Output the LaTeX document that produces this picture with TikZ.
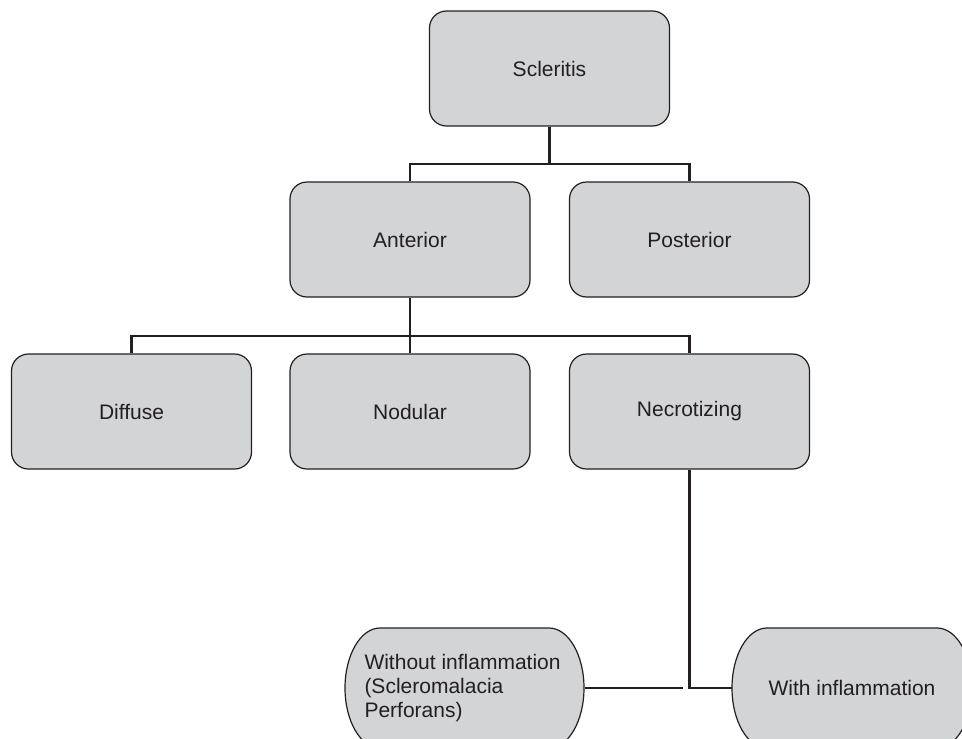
\documentclass[tikz,border=0pt]{standalone}
\usepackage{fontspec}
\setmainfont{Liberation Sans}
\definecolor{boxfill}{HTML}{D3D4D6}
\definecolor{ink}{HTML}{231F20}
\begin{document}
\begin{tikzpicture}[x=1pt,y=-1pt,
  every node/.style={font=\fontsize{21}{24}\selectfont, text=ink},
  catbox/.style={draw=ink, line width=1.2pt, fill=boxfill, rounded corners=17pt,
    minimum width=240pt, minimum height=115pt, inner sep=0pt},
  ovalfill/.style={draw=ink, line width=1.2pt, fill=boxfill},
  conn/.style={draw=ink, line width=2.4pt}]
\useasboundingbox (0,0) rectangle (962,739);

% category boxes
\node[catbox] (scl) at (549.5,68.5) {Scleritis};
\node[catbox] (ant) at (410,239.5) {Anterior};
\node[catbox] (post) at (689.5,239.5) {Posterior};
\node[catbox] (dif) at (131.5,411.5) {Diffuse};
\node[catbox] (nod) at (410,411.5) {Nodular};
\node[catbox] (nec) at (689.5,411.5) {Necrotizing};

% oval shapes (elliptic ends)
\path[ovalfill] (380,628) -- (549,628)
  arc[start angle=-90, end angle=90, x radius=35, y radius=60]
  -- (380,748)
  arc[start angle=90, end angle=270, x radius=35, y radius=60] -- cycle;
\path[ovalfill] (767,628) -- (937,628)
  arc[start angle=-90, end angle=90, x radius=35, y radius=60]
  -- (767,748)
  arc[start angle=90, end angle=270, x radius=35, y radius=60] -- cycle;

\node[inner xsep=20pt, inner ysep=0pt, minimum width=240pt,
  minimum height=120pt] (wo) at (464.5,688)
  {\raisebox{-6pt}{\parbox{200pt}{\raggedright\hyphenpenalty=10000
   Without inflammation\\(Scleromalacia\\Perforans)}}};
\node[minimum width=240pt, minimum height=120pt, inner sep=0pt] (wi) at (852,688)
  {With inflammation};

% connectors
\coordinate (b1) at (549.5,164);
\coordinate (b2) at (410,336);
\coordinate (gapend) at (683,688);
\draw[conn] (scl.south) -- (b1);
\draw[conn] (ant.north) |- (b1) -| (post.north);
\draw[conn] (ant.south) -- (b2);
\draw[conn] (dif.north) |- (b2) -| (nec.north);
\draw[conn] (nod.north) -- (b2);
\draw[conn] (nec.south) |- (wi.west);
\draw[conn] (wo.east) -- (gapend);
\end{tikzpicture}
\end{document}
